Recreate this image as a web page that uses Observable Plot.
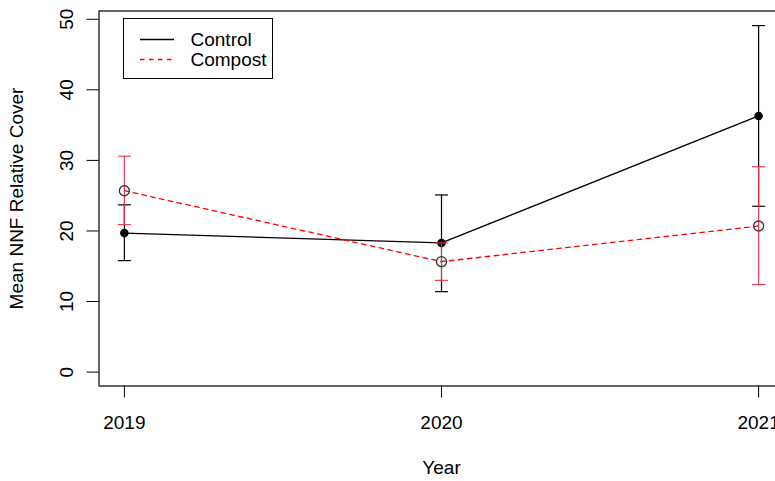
<!DOCTYPE html>
<html><head><meta charset="utf-8">
<script src="https://cdn.jsdelivr.net/npm/d3@7"></script>
<script src="https://cdn.jsdelivr.net/npm/@observablehq/plot@0.6"></script>
<style>
html,body{margin:0;padding:0;background:#fff;overflow:hidden;}
#wrap{position:relative;width:775px;height:481px;overflow:hidden;}
#wrap svg.plot{overflow:hidden;}
#legend{position:absolute;left:123px;top:18px;width:150px;height:61px;box-sizing:border-box;border:1px solid #000;background:#fff;}
#legend text{font-family:"Liberation Sans",Arial,sans-serif;font-size:19px;fill:#000;}
</style></head><body><div id="wrap"></div>
<script>
const years = [2019, 2020, 2021];
const controlMean = [19.7, 18.3, 36.3];
const controlLow = [15.8, 11.4, 23.5];
const controlHigh = [23.7, 25.1, 49.1];
const compostMean = [25.7, 15.65, 20.7];
const compostLow = [20.9, 13.0, 12.4];
const compostHigh = [30.6, 18.3, 29.1];
const yTicks = [0, 10, 20, 30, 40, 50];
const seriesNames = ["Control", "Compost"];
const xTitle = "Year";
const yTitle = "Mean NNF Relative Cover";

const control = years.map((y, i) => ({year: y, mean: controlMean[i], lo: controlLow[i], hi: controlHigh[i]}));
const compost = years.map((y, i) => ({year: y, mean: compostMean[i], lo: compostLow[i], hi: compostHigh[i]}));

const cap = {draw(ctx, size) { const w = Math.sqrt(size / Math.PI); ctx.moveTo(-w, 0); ctx.lineTo(w, 0); }};

const chart = Plot.plot({
  width: 775, height: 481,
  marginLeft: 98.5, marginRight: -8.5, marginTop: 10.5, marginBottom: 95.5,
  x: {domain: [2018.92, 2021.08]},
  y: {domain: [-1.97, 51.17]},
  style: {fontFamily: '"Liberation Sans", Arial, sans-serif', fontSize: "19px", background: "white", color: "#000"},
  marks: [
    Plot.axisY({ticks: yTicks, tickSize: 12, tickPadding: 14, tickRotate: -90, label: null}),
    Plot.axisX({ticks: years, tickSize: 12, tickPadding: 17, tickFormat: "d", label: null}),
    Plot.text([yTitle], {frameAnchor: "left", rotate: -90, dx: -90, textAnchor: "middle", lineAnchor: "top", fontSize: 19}),
    Plot.text([xTitle], {frameAnchor: "bottom", dy: 88, textAnchor: "middle", lineAnchor: "bottom", fontSize: 19}),
    Plot.line(control, {x: "year", y: "mean", stroke: "#000", strokeWidth: 1.3}),
    Plot.ruleX(control, {x: "year", y1: "lo", y2: "hi", stroke: "#000", strokeWidth: 1.2}),
    Plot.dot(control, {x: "year", y: "lo", symbol: cap, r: 6.5, stroke: "#000", fill: "none", strokeWidth: 1.2}),
    Plot.dot(control, {x: "year", y: "hi", symbol: cap, r: 6.5, stroke: "#000", fill: "none", strokeWidth: 1.2}),
    Plot.dot(control, {x: "year", y: "mean", r: 4.3, fill: "#000", stroke: null}),
    Plot.line(compost, {x: "year", y: "mean", stroke: "red", strokeWidth: 1.3, strokeDasharray: "4.5,4.5"}),
    Plot.ruleX(compost, {x: "year", y1: "lo", y2: "hi", stroke: "#f03050", strokeWidth: 1.1}),
    Plot.dot(compost, {x: "year", y: "lo", symbol: cap, r: 6.5, stroke: "#f03050", fill: "none", strokeWidth: 1.1}),
    Plot.dot(compost, {x: "year", y: "hi", symbol: cap, r: 6.5, stroke: "#f03050", fill: "none", strokeWidth: 1.1}),
    Plot.dot(compost, {x: "year", y: "mean", r: 5, stroke: "#333", fill: "none", strokeWidth: 1.3}),
    Plot.frame({stroke: "#000", strokeWidth: 1.2})
  ]
});
const wrap = document.getElementById("wrap");
wrap.appendChild(chart);

const ns = "http://www.w3.org/2000/svg";
const leg = document.createElement("div");
leg.id = "legend";
const ls = document.createElementNS(ns, "svg");
ls.setAttribute("width", "148"); ls.setAttribute("height", "59");
const styles = [{stroke: "#000", dash: null}, {stroke: "red", dash: "4.5,4.5"}];
seriesNames.forEach((name, i) => {
  const y = 20.5 + i * 20;
  const l = document.createElementNS(ns, "line");
  l.setAttribute("x1", 16); l.setAttribute("x2", 50);
  l.setAttribute("y1", y); l.setAttribute("y2", y);
  l.setAttribute("stroke", styles[i].stroke); l.setAttribute("stroke-width", "1.3");
  if (styles[i].dash) l.setAttribute("stroke-dasharray", styles[i].dash);
  ls.appendChild(l);
  const t = document.createElementNS(ns, "text");
  t.setAttribute("x", 66.5); t.setAttribute("y", y + 6.5);
  t.textContent = name;
  ls.appendChild(t);
});
leg.appendChild(ls);
wrap.appendChild(leg);
</script></body></html>
